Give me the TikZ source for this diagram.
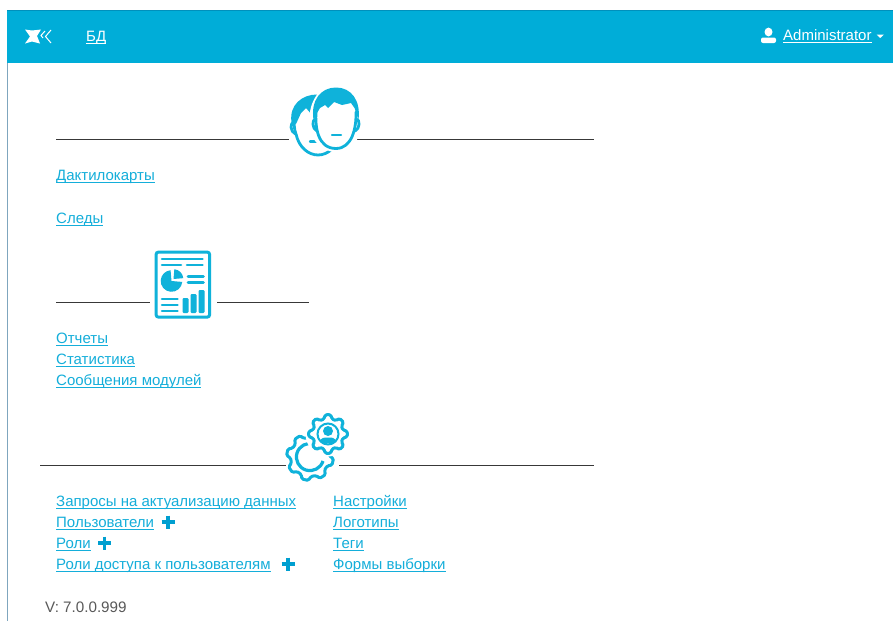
\documentclass[tikz,border=0pt]{standalone}
\usepackage{fontspec}
\setmainfont{Liberation Sans}
\usetikzlibrary{calc}
\definecolor{brand}{HTML}{00ADD8}
\definecolor{brandedge}{HTML}{0090BC}
\definecolor{linkc}{HTML}{14AEDA}
\definecolor{iconc}{HTML}{0FB2DA}
\definecolor{plusc}{HTML}{009FD0}
\definecolor{framec}{HTML}{7FA6BE}
\newsavebox{\lnkbox}
\newcommand{\lnk}[1]{\sbox{\lnkbox}{#1}\rlap{\usebox{\lnkbox}}\rule[-2.2pt]{\wd\lnkbox}{0.7pt}}
\newcommand{\gearshape}[6]{% cx cy router rinner teeth phase
  \gdef\gtmp{}%
  \pgfmathsetmacro{\gst}{360/#5}%
  \foreach \gi in {1,...,#5}{%
    \pgfmathsetmacro{\ga}{#6+\gi*\gst-0.32*\gst}%
    \pgfmathsetmacro{\gb}{#6+\gi*\gst-0.19*\gst}%
    \pgfmathsetmacro{\gc}{#6+\gi*\gst+0.19*\gst}%
    \pgfmathsetmacro{\gd}{#6+\gi*\gst+0.32*\gst}%
    \xdef\gtmp{\gtmp (\ga:#4) -- (\gb:#3) -- (\gc:#3) -- (\gd:#4) -- }%
  }%
  \edef\gdo{\noexpand\draw[gearline,shift={(#1,#2)}] \gtmp cycle;}\gdo}
\tikzset{
  linktext/.style={anchor=base west,text=linkc,inner sep=0pt,font=\fontsize{15}{17}\selectfont},
  headtext/.style={anchor=base west,text=white,inner sep=0pt,font=\fontsize{15}{17}\selectfont},
  plaintext/.style={anchor=base west,text=black!65,inner sep=0pt,font=\fontsize{15.2}{17}\selectfont},
  rulex/.style={draw=black!78,line width=1pt},
  gearline/.style={draw=iconc,line width=3pt,line join=round,rounded corners=1.5pt},
  thinbar/.style={draw=iconc,line width=2.6pt,line cap=round},
  plusmark/.style={draw=plusc,line width=3.4pt},
  faceline/.style={draw=iconc,line width=2.8pt,line cap=round,line join=round},
}
\begin{document}
\begin{tikzpicture}[x=1pt,y=-1pt]
\useasboundingbox (0,0) rectangle (893,621);
\fill[white] (0,0) rectangle (893,621);
% page frame and header
\fill[framec] (7,10) rectangle (8.2,621);
\fill[brand] (7,10) rectangle (893,63);
\fill[brandedge] (7,10) rectangle (893,11.2);
% logo
\fill[white] (25,29.5) -- (32,30.5) -- (41,29.5) -- (37,36) -- (40,43.5) -- (32,41.5) -- (25,43.5) -- (30,36.5) -- cycle;
\draw[white,line width=1pt] (45,31) -- (41,35.5) -- (43,38);
\draw[white,line width=1pt] (51,30) -- (45.5,36.5) -- (51,43);
\node[headtext] (bd) at (86,41) {\lnk{БД}};
% user
\fill[white] (768.5,32) ellipse (4 and 4.4);
\fill[white,rounded corners=2pt] (761,37.5) rectangle (776,43);
\node[headtext] (admin) at (783,40.5) {\lnk{Administrator}};
\fill[white] (876.5,34.5) -- (884,34.5) -- (880.2,38) -- cycle;
% section rules
\coordinate (s1a) at (56,139.5); \coordinate (s1b) at (289,139.5);
\coordinate (s1c) at (357,139.5); \coordinate (s1d) at (594,139.5);
\draw[rulex] (s1a) -- (s1b); \draw[rulex] (s1c) -- (s1d);
\coordinate (s2a) at (56,302.5); \coordinate (s2b) at (150,302.5);
\coordinate (s2c) at (217,302.5); \coordinate (s2d) at (309,302.5);
\draw[rulex] (s2a) -- (s2b); \draw[rulex] (s2c) -- (s2d);
\coordinate (s3a) at (40,465.5); \coordinate (s3b) at (286,465.5);
\coordinate (s3c) at (339,465.5); \coordinate (s3d) at (594,465.5);
\draw[rulex] (s3a) -- (s3b); \draw[rulex] (s3c) -- (s3d);
% faces: back
\draw[faceline] (294,116) .. controls (294,122) and (294,130) .. (296,134) .. controls (299,148) and (309,155) .. (318,155) .. controls (323,155) and (328,153) .. (332,149);
\draw[faceline] (294.5,122) .. controls (289.5,122) and (290,132) .. (295.5,134);
\fill[iconc] (291.5,122) .. controls (289,105) and (302,94.5) .. (317,94.5) -- (312,115) -- (306,108) -- (301,113) -- (296,124) -- cycle;
\draw[faceline,line width=2.4pt] (310,141.5) -- (317.5,141.5);
% faces: front
\fill[white] (309,123) .. controls (309,100) and (320,85) .. (336,85) .. controls (352,85) and (362,100) .. (362,123) .. controls (362,140) and (348,152) .. (336,152) .. controls (323,152) and (309,140) .. (309,123) -- cycle;
\draw[faceline] (316,112) .. controls (315,128) and (318,148.5) .. (336,148.5) .. controls (352,148.5) and (356.5,128) .. (356,112);
\draw[faceline] (316,119) .. controls (311.5,119) and (312,129) .. (317,131);
\draw[faceline] (356,119) .. controls (360.5,119) and (360,129) .. (355,131);
\fill[iconc] (313.5,120) .. controls (310.5,100) and (321,87.5) .. (336,87.5) .. controls (351,87.5) and (361,100) .. (358.5,120) -- (354.5,108) -- (351,103) -- (342,105) -- (334,102) -- (328,108) -- (325,105) -- (320,108) -- (317,113) -- cycle;
\draw[faceline,line width=2.4pt] (332,135) -- (341,135);
% report
\draw[iconc,line width=3pt,rounded corners=2pt] (156.2,252.2) rectangle (209.5,317);
\draw[thinbar] (162,259) -- (202.5,259);
\draw[thinbar] (162,265) -- (181,265);
\draw[thinbar] (187,265) -- (202.5,265);
\fill[iconc] (171.5,281) -- ++(5:10.8) arc[start angle=5,end angle=265,radius=10.8] -- cycle;
\fill[iconc] (173.5,279) -- ++(-85:9.8) arc[start angle=-85,end angle=-5,radius=9.8] -- cycle;
\draw[thinbar] (188,276.5) -- (203.5,276.5);
\draw[thinbar] (188,282.5) -- (203.5,282.5);
\draw[thinbar] (162,299) -- (177.5,299);
\draw[thinbar] (162,305) -- (177.5,305);
\draw[thinbar] (162,311) -- (177.5,311);
\fill[iconc,rounded corners=1.2pt] (182.5,313) rectangle (188.5,298);
\fill[iconc,rounded corners=1.2pt] (190.5,313) rectangle (196.5,294);
\fill[iconc,rounded corners=1.2pt] (198.5,313) rectangle (204.5,290);
% big gear
\gearshape{310}{457}{23.5}{19.5}{8}{12}
\draw[iconc,line width=3.2pt] (323,461) arc[start angle=17,end angle=320,radius=13.6];
% small gear
\fill[white] (328,434) circle (22.5);
\gearshape{328}{434}{19.5}{15.5}{8}{0}
\draw[iconc,line width=2pt] (328,434) circle (10.5);
\fill[iconc] (328,431) circle (5);
\fill[iconc] (320,441.5) .. controls (321,437.5) and (324,437.5) .. (328,437.5) .. controls (332,437.5) and (335,437.5) .. (336,441.5) .. controls (332,444) and (324,444) .. (320,441.5) -- cycle;
% links
\node[linktext] (dak) at (56,180) {\lnk{Дактилокарты}};
\node[linktext] (sled) at (56,223) {\lnk{Следы}};
\node[linktext] (otch) at (56,343) {\lnk{Отчеты}};
\node[linktext] (stat) at (56,364) {\lnk{Статистика}};
\node[linktext] (soob) at (56,385) {\lnk{Сообщения модулей}};
\node[linktext] (zapr) at (56,506) {\lnk{Запросы на актуализацию данных}};
\node[linktext] (polz) at (56,527) {\lnk{Пользователи}};
\node[linktext] (roli) at (56,548) {\lnk{Роли}};
\node[linktext] (rdos) at (56,569) {\lnk{Роли доступа к пользователям}};
\node[linktext] (nast) at (333,506) {\lnk{Настройки}};
\node[linktext] (logo) at (333,527) {\lnk{Логотипы}};
\node[linktext] (tegi) at (333,548) {\lnk{Теги}};
\node[linktext] (form) at (333,569) {\lnk{Формы выборки}};
\node[plaintext] (ver) at (45,612) {V: 7.0.0.999};
% plus marks
\draw[plusmark] (161.5,522) -- (174.5,522) (168,515.5) -- (168,528.5);
\draw[plusmark] (98,543) -- (111,543) (104.5,536.5) -- (104.5,549.5);
\draw[plusmark] (281.5,564) -- (294.5,564) (288,557.5) -- (288,570.5);
\end{tikzpicture}
\end{document}
